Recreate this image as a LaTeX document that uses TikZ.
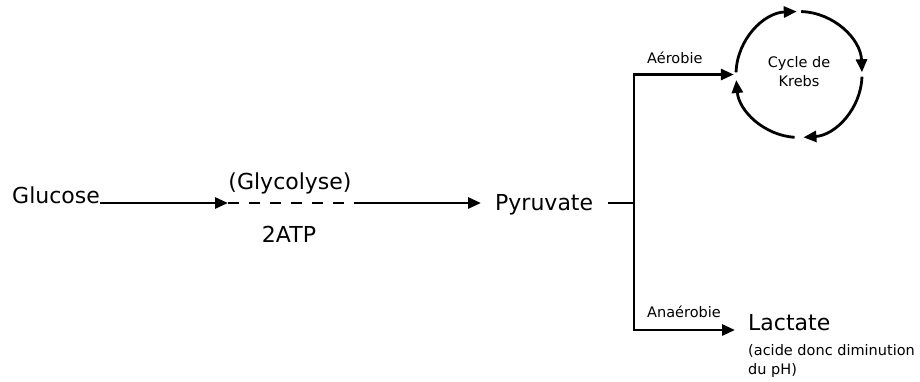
\documentclass[tikz,border=0pt]{standalone}
\usepackage{fontspec}
\setmainfont{DejaVu Sans}
\usetikzlibrary{arrows.meta}
\begin{document}
\begin{tikzpicture}[x=1pt,y=-1pt,
  big/.style={font=\fontsize{22}{26}\selectfont, inner sep=0pt},
  small/.style={font=\fontsize{14.5}{19}\selectfont, inner sep=0pt},
  tip/.style={-{Triangle[length=13pt,width=11pt]}},
  link/.style={line width=2.8pt, tip},
  plain/.style={line width=2.8pt}]
\useasboundingbox (0,0) rectangle (920,381);

% glycolysis: glucose to pyruvate
\node[big, anchor=base west] (glc) at (12,203) {Glucose};
\coordinate (d1) at (228,203);
\coordinate (d2) at (355,203);
\node[big, anchor=base] (gly) at (290,189) {(Glycolyse)};
\node[big, anchor=base] (atp) at (289,242) {2ATP};
\node[big, anchor=base west] (pyr) at (495,210) {Pyruvate};

\draw[link] (glc.base east) -- (d1);
\draw[plain, dash pattern=on 11pt off 10pt] (d1) -- (d2);
\draw[link] (d2) -- ([xshift=-14pt]pyr.west |- d2);

% branch point
\coordinate (b0) at (608,203);
\coordinate (bj) at (634,203);
\draw[plain] (b0) -- (bj);

% Krebs cycle
\node[circle, minimum size=126pt, inner sep=0pt] (cyc) at (799,74.5) {};
\node[small, align=center] (krebs) at (799,72) {Cycle de\\Krebs};
\draw[link] ([shift={(-178:63)}]cyc.center) arc[start angle=-178, end angle=-92, radius=63];
\draw[link] ([shift={(-88:63)}]cyc.center) arc[start angle=-88, end angle=-2, radius=63];
\draw[link] ([shift={(2:63)}]cyc.center) arc[start angle=2, end angle=86, radius=63];
\draw[link] ([shift={(94:63)}]cyc.center) arc[start angle=94, end angle=175, radius=63];

% aerobic branch
\draw[link] (bj) |- ([xshift=-2pt]cyc.west);
\node[small, anchor=base west] (aer) at (647,63) {Aérobie};

% anaerobic branch
\node[big, anchor=base west] (lac) at (748,330) {Lactate};
\node[small, anchor=north west, align=left] (note) at (748,344) {(acide donc diminution\\du pH)};
\coordinate (lacin) at (735,330);
\draw[link] (bj) |- (lacin);
\node[small, anchor=base west] (ana) at (647,317) {Anaérobie};
\end{tikzpicture}
\end{document}
